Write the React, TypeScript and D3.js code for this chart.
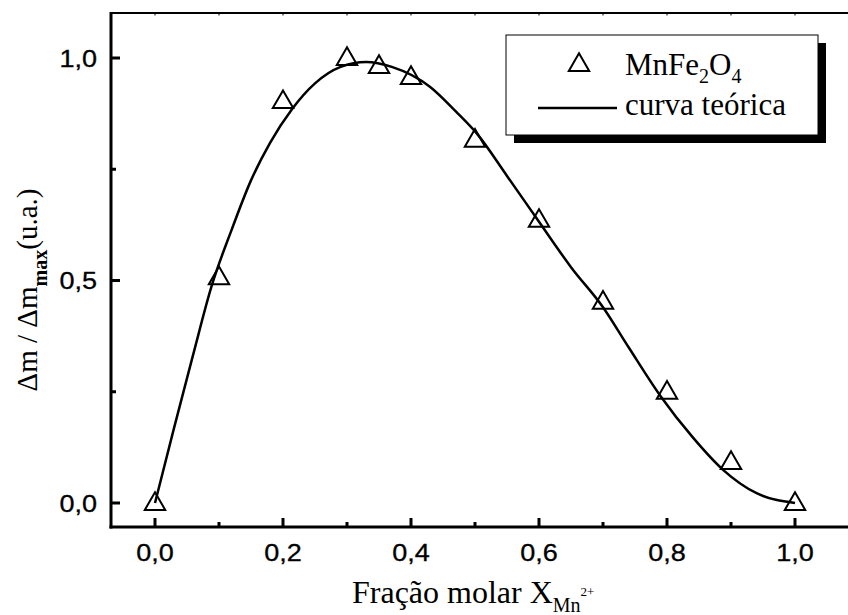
import * as d3 from 'd3';

// measured points (Δm / Δm_max)
const fractions = [0, 0.1, 0.2, 0.3, 0.35, 0.4, 0.5, 0.6, 0.7, 0.8, 0.9, 1.0];
const deltaM = [0, 0.507, 0.903, 1.0, 0.982, 0.957, 0.816, 0.636, 0.452, 0.25, 0.092, 0.0];

// theoretical curve
const curveX = [0, 0.03, 0.059, 0.089, 0.12, 0.15, 0.18, 0.214, 0.25, 0.29, 0.33, 0.37, 0.43, 0.47, 0.503, 0.55, 0.6, 0.65, 0.7, 0.74, 0.79, 0.84, 0.888, 0.94, 1.0];
const curveY = [0, 0.17, 0.33, 0.49, 0.615, 0.725, 0.81, 0.885, 0.943, 0.98, 0.991, 0.98, 0.935, 0.88, 0.83, 0.735, 0.632, 0.53, 0.44, 0.35, 0.24, 0.148, 0.074, 0.022, 0.0];

const xMajor = [0, 0.2, 0.4, 0.6, 0.8, 1.0];
const xMinor = [0.1, 0.3, 0.5, 0.7, 0.9];
const yMajor = [0, 0.5, 1.0];
const yMinor = [0.25, 0.75];
const xTopTicks = [-0.1, 0, 0.1, 0.2, 0.3, 0.4, 0.5, 0.6, 0.7, 0.8, 0.9, 1.0, 1.1];

const W = 848;
const H = 615;

export default function App() {
  const x = d3.scaleLinear().domain([0, 1]).range([155, 795]);
  const y = d3.scaleLinear().domain([0, 1]).range([503, 58]);

  const fmt = (v: number) => d3.format('.1f')(v).replace('.', ',');

  const left = 111;
  const bottom = 527;
  const top = 13;
  const right = W + 10;

  const line = d3.line<number>()
    .x((_, i) => x(curveX[i]))
    .y((d) => y(d))
    .curve(d3.curveMonotoneX);

  const tri = d3.symbol().type(d3.symbolTriangle).size(180)();

  const serif = '"Liberation Serif", "Times New Roman", serif';
  const sans = '"Liberation Sans", Arial, sans-serif';

  return (
    <svg width={W} height={H} style={{ position: 'fixed', left: 0, top: 0, background: '#fff' }}>
      <rect width={W} height={H} fill="#fff" />

      {/* frame */}
      <line x1={left} x2={right} y1={top} y2={top} stroke="#000" strokeWidth={2} />
      {xTopTicks.filter(v => x(v) > left).map(v => (
        <line key={'t' + v} x1={x(v)} x2={x(v)} y1={top} y2={top + 2.5} stroke="#000" strokeWidth={1} />
      ))}
      <line x1={left} x2={left} y1={top - 1} y2={bottom + 1.5} stroke="#000" strokeWidth={3} />
      <line x1={left - 1.5} x2={right} y1={bottom} y2={bottom} stroke="#000" strokeWidth={3} />

      {/* x ticks */}
      {xMajor.map(v => (
        <g key={'xm' + v}>
          <line x1={x(v)} x2={x(v)} y1={bottom} y2={bottom - 9} stroke="#000" strokeWidth={3} />
          <text transform={`translate(${x(v)},561) scale(1.15,1)`} textAnchor="middle" fontFamily={sans}
            fontSize={23.5} stroke="#000" strokeWidth={0.3}>{fmt(v)}</text>
        </g>
      ))}
      {xMinor.map(v => (
        <line key={'xn' + v} x1={x(v)} x2={x(v)} y1={bottom} y2={bottom - 5} stroke="#000" strokeWidth={3} />
      ))}

      {/* y ticks */}
      {yMajor.map(v => (
        <g key={'ym' + v}>
          <line x1={left} x2={left + 9} y1={y(v)} y2={y(v)} stroke="#000" strokeWidth={3} />
          <text transform={`translate(97,${y(v) + 8.5}) scale(1.15,1)`} textAnchor="end" fontFamily={sans}
            fontSize={23.5} stroke="#000" strokeWidth={0.3}>{fmt(v)}</text>
        </g>
      ))}
      {yMinor.map(v => (
        <line key={'yn' + v} x1={left} x2={left + 5} y1={y(v)} y2={y(v)} stroke="#000" strokeWidth={3} />
      ))}

      {/* theoretical curve */}
      <path d={line(curveY) || ''} fill="none" stroke="#000" strokeWidth={2.5} />

      {/* data points */}
      {fractions.map((f, i) => (
        <path key={'p' + i} d={tri || ''} transform={`translate(${x(f)},${y(deltaM[i]) + 1})`}
          fill="none" stroke="#000" strokeWidth={2} />
      ))}

      {/* legend */}
      <rect x={514} y={43} width={312} height={100} fill="#000" />
      <rect x={506} y={35} width={312} height={100} fill="#fff" stroke="#000" strokeWidth={1} />
      <path d={tri || ''} transform="translate(579,65)" fill="none" stroke="#000" strokeWidth={2} />
      <text x={625} y={75} fontFamily={serif} fontSize={31}>
        MnFe<tspan fontSize={20} dy={8}>2</tspan><tspan dy={-8}>O</tspan><tspan fontSize={20} dy={8}>4</tspan>
      </text>
      <line x1={538} x2={617} y1={108} y2={108} stroke="#000" strokeWidth={2.5} />
      <text x={625} y={115} fontFamily={serif} fontSize={31}>curva teórica</text>

      {/* axis titles */}
      <text x={352} y={603} fontFamily={serif} fontSize={32}>
        Fração molar X<tspan fontSize={20} dy={9}>Mn</tspan><tspan fontSize={13} dy={-16}>2+</tspan>
      </text>
      <text transform="translate(37,290) rotate(-90)" textAnchor="middle" fontFamily={serif} fontSize={29}>
        Δm / Δm<tspan fontSize={20} fontWeight="bold" dy={10}>max</tspan><tspan dy={-10}>(u.a.)</tspan>
      </text>
    </svg>
  );
}
